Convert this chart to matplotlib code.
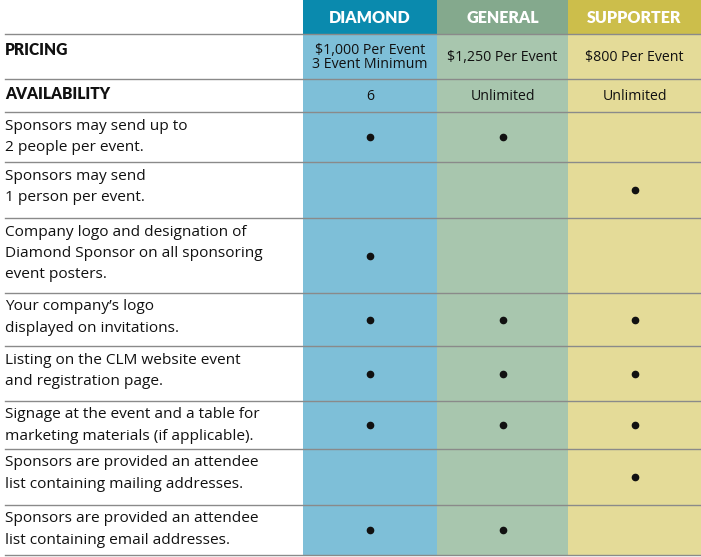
import matplotlib.pyplot as plt
from matplotlib.patches import Rectangle

tiers = ['DIAMOND', 'GENERAL', 'SUPPORTER']
pricing = ['$1,000 Per Event\n3 Event Minimum', '$1,250 Per Event', '$800 Per Event']
availability = ['6', 'Unlimited', 'Unlimited']
features = [
    'Sponsors may send up to\n2 people per event.',
    'Sponsors may send\n1 person per event.',
    'Company logo and designation of\nDiamond Sponsor on all sponsoring\nevent posters.',
    'Your company\u2019s logo\ndisplayed on invitations.',
    'Listing on the CLM website event\nand registration page.',
    'Signage at the event and a table for\nmarketing materials (if applicable).',
    'Sponsors are provided an attendee\nlist containing mailing addresses.',
    'Sponsors are provided an attendee\nlist containing email addresses.',
]
diamond = [1, 0, 1, 1, 1, 1, 0, 1]
general = [1, 0, 0, 1, 1, 1, 0, 1]
supporter = [0, 1, 0, 1, 1, 1, 1, 0]

# layout (pixels)
col_edges = [303, 437, 568, 701]
row_edges = [34, 79, 112, 162, 218, 293, 346, 401, 449, 505, 555]
head_colors = ['#0a8aae', '#84a98d', '#ccbe4b']
body_colors = ['#7ebfd8', '#a8c6ae', '#e4db98']
font = 'Open Sans'
bold_font = 'Lato'

fig = plt.figure(figsize=(7.01, 5.57), dpi=100)
ax = fig.add_axes([0, 0, 1, 1])
ax.set_xlim(0, 701)
ax.set_ylim(557, 0)
ax.axis('off')

for i in range(3):
    x0, x1 = col_edges[i], col_edges[i + 1]
    ax.add_patch(Rectangle((x0, 0), x1 - x0, row_edges[0], color=head_colors[i], lw=0))
    ax.add_patch(Rectangle((x0, row_edges[0]), x1 - x0, row_edges[-1] - row_edges[0],
                           color=body_colors[i], lw=0))
    xc = (x0 + x1) / 2
    ax.text(xc, row_edges[0] / 2 + 1, tiers[i], color='white', fontsize=11.5,
            fontweight='heavy', ha='center', va='center', family=bold_font)
    ax.text(xc, (row_edges[0] + row_edges[1]) / 2 + 1, pricing[i], fontsize=10.2,
            ha='center', va='center', family=font, linespacing=0.9, color='#111111')
    ax.text(xc, (row_edges[1] + row_edges[2]) / 2 + 1, availability[i], fontsize=10.2,
            ha='center', va='center', family=font, color='#111111')

for y in row_edges:
    ax.plot([5, 701], [y, y], color='#8a8a8a', lw=1)

ax.text(5, 50, 'PRICING', fontsize=11.2, fontweight='heavy', va='center', family=bold_font,
        color='#111111')
ax.text(5, 94, 'AVAILABILITY', fontsize=11.2, fontweight='heavy', va='center', family=bold_font,
        color='#111111')

marks = [diamond, general, supporter]
for r, label in enumerate(features):
    y0, y1 = row_edges[r + 2], row_edges[r + 3]
    ax.text(5, y0 + 6.5, label, fontsize=11.1, va='top', family=font,
            linespacing=1.58, color='#111111')
    for i in range(3):
        if marks[i][r]:
            xc = (col_edges[i] + col_edges[i + 1]) / 2
            ax.plot(xc, (y0 + y1) / 2, 'o', color='#111111', ms=4.5)

fig.savefig('out.png', dpi=100)
